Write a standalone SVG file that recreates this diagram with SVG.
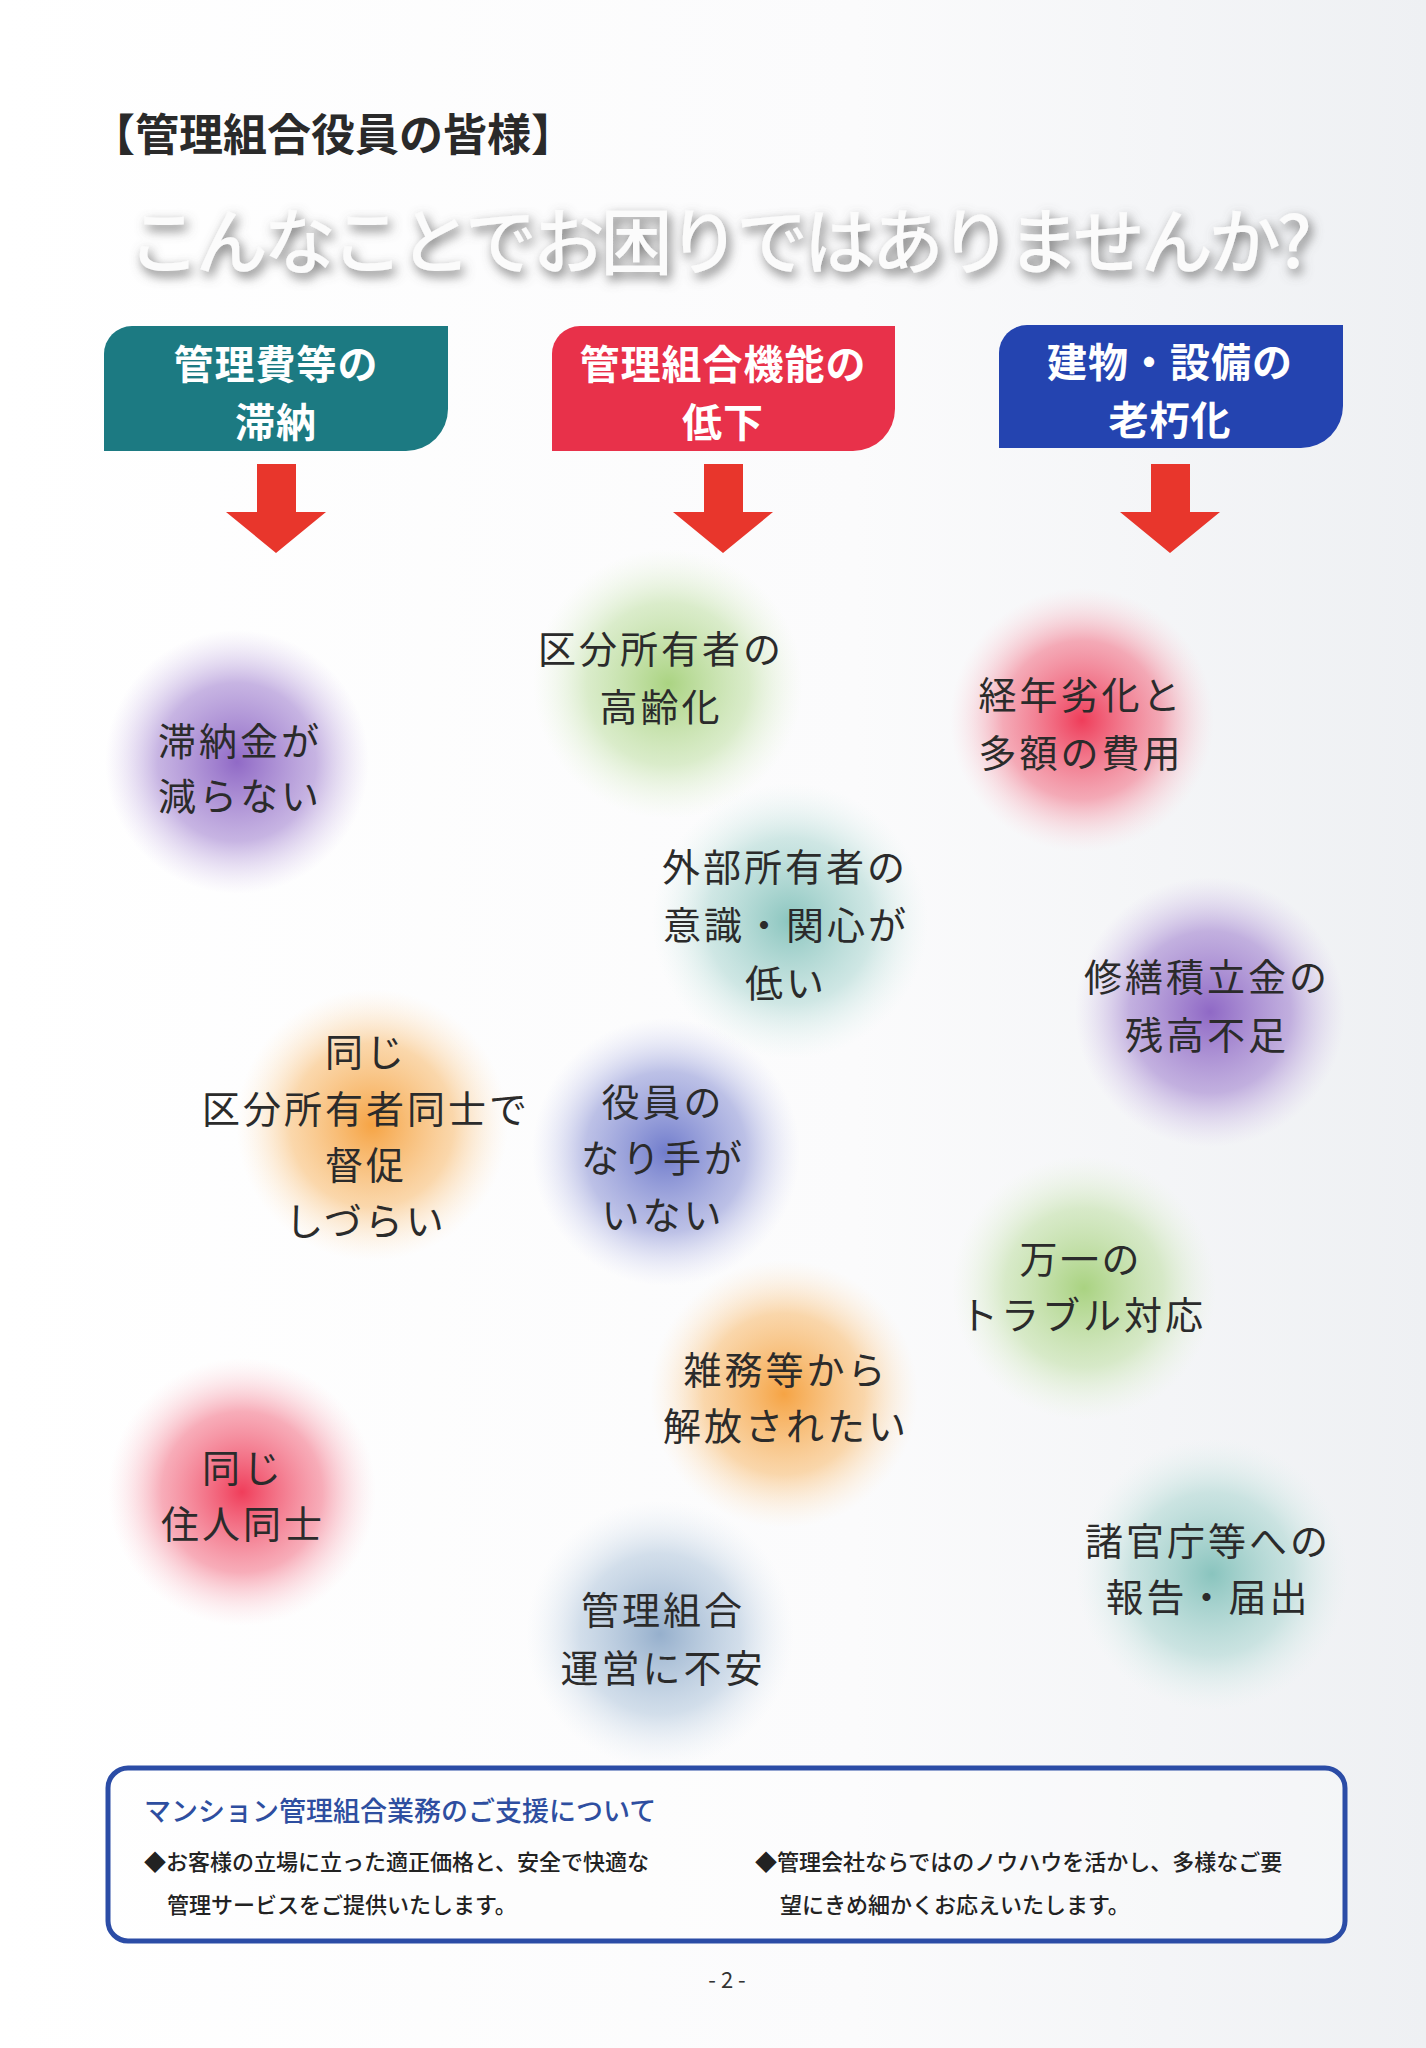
<svg xmlns="http://www.w3.org/2000/svg" width="1426" height="2048" viewBox="0 0 1426 2048">
<defs>
<style>
.jp{font-family:"Noto Sans CJK JP","Noto Sans",sans-serif;}
.hd{font-family:"Noto Sans CJK JP",sans-serif;font-weight:700;font-size:40px;letter-spacing:1px;fill:#ffffff;text-anchor:middle;dominant-baseline:central;}
.bt{font-family:"Noto Sans CJK JP",sans-serif;font-weight:400;font-size:38px;letter-spacing:3px;fill:#2b2b2b;text-anchor:middle;dominant-baseline:central;}
.sm{font-family:"Noto Sans CJK JP",sans-serif;font-weight:500;font-size:22px;fill:#222;dominant-baseline:central;}
.arrow{fill:#e8362c;}
</style>
<linearGradient id="bg" x1="0" y1="0" x2="1" y2="0">
<stop offset="0" stop-color="#ffffff"/>
<stop offset="0.6" stop-color="#fbfbfc"/>
<stop offset="1" stop-color="#eef0f3"/>
</linearGradient>
<radialGradient id="gPurple"><stop offset="0" stop-color="#8459c0" stop-opacity="0.9"/><stop offset="0.6" stop-color="#9a78cc" stop-opacity="0.55"/><stop offset="1" stop-color="#c8b4e4" stop-opacity="0"/></radialGradient>
<radialGradient id="gGreen"><stop offset="0" stop-color="#9ccc6c" stop-opacity="0.85"/><stop offset="0.6" stop-color="#b8dc98" stop-opacity="0.5"/><stop offset="1" stop-color="#dff0d0" stop-opacity="0"/></radialGradient>
<radialGradient id="gRed"><stop offset="0" stop-color="#ee2848" stop-opacity="0.9"/><stop offset="0.6" stop-color="#f26a80" stop-opacity="0.55"/><stop offset="1" stop-color="#fac8d0" stop-opacity="0"/></radialGradient>
<radialGradient id="gTeal"><stop offset="0" stop-color="#6fb8b0" stop-opacity="0.8"/><stop offset="0.6" stop-color="#a2d2cc" stop-opacity="0.5"/><stop offset="1" stop-color="#d8eeea" stop-opacity="0"/></radialGradient>
<radialGradient id="gOrange"><stop offset="0" stop-color="#f59a30" stop-opacity="0.9"/><stop offset="0.6" stop-color="#f8b868" stop-opacity="0.55"/><stop offset="1" stop-color="#fde2c0" stop-opacity="0"/></radialGradient>
<radialGradient id="gBlue"><stop offset="0" stop-color="#5866c4" stop-opacity="0.85"/><stop offset="0.6" stop-color="#8890d4" stop-opacity="0.55"/><stop offset="1" stop-color="#c8ccee" stop-opacity="0"/></radialGradient>
<radialGradient id="gSky"><stop offset="0" stop-color="#7c9cc0" stop-opacity="0.8"/><stop offset="0.6" stop-color="#a8c0d8" stop-opacity="0.5"/><stop offset="1" stop-color="#dce6f0" stop-opacity="0"/></radialGradient>
<filter id="glow" x="-10%" y="-40%" width="120%" height="180%">
<feGaussianBlur in="SourceAlpha" stdDeviation="6" result="b"/>
<feOffset in="b" dx="3" dy="5" result="o"/>
<feFlood flood-color="#6a6a6a" flood-opacity="0.95"/>
<feComposite in2="o" operator="in" result="s"/>
<feMerge><feMergeNode in="s"/><feMergeNode in="SourceGraphic"/></feMerge>
</filter>
</defs>

<rect x="0" y="0" width="1426" height="2048" fill="url(#bg)"/>

<g id="title">
<text x="91" y="132" class="jp" font-size="44" font-weight="700" fill="#2a2a2a" dominant-baseline="central">【管理組合役員の皆様】</text>
</g>
<g id="subtitle">
<text x="128" y="236" class="jp" font-size="72" font-weight="500" fill="#fbfbfb" dominant-baseline="central" textLength="1184" lengthAdjust="spacing" filter="url(#glow)">こんなことでお困りではありませんか?</text>
</g>

<g id="header1">
<path d="M104,354 A28,28 0 0 1 132,326 L448,326 L448,409 A42,42 0 0 1 406,451 L104,451 Z" fill="#1c7a82"/>
<text x="276" y="362" class="hd">管理費等の</text>
<text x="276" y="420" class="hd">滞納</text>
</g>
<g id="header2">
<path d="M552,354 A28,28 0 0 1 580,326 L895,326 L895,409 A42,42 0 0 1 853,451 L552,451 Z" fill="#e8314a"/>
<text x="723" y="362" class="hd">管理組合機能の</text>
<text x="723" y="420" class="hd">低下</text>
</g>
<g id="header3">
<path d="M999,353 A28,28 0 0 1 1027,325 L1343,325 L1343,406 A42,42 0 0 1 1301,448 L999,448 Z" fill="#2444b0"/>
<text x="1170" y="360" class="hd">建物・設備の</text>
<text x="1170" y="418" class="hd">老朽化</text>
</g>

<g id="connectors">
<path class="arrow" d="M257,464 L296,464 L296,512 L326,512 L276,553 L226,512 L257,512 Z"/>
<path class="arrow" d="M704,464 L743,464 L743,512 L773,512 L723,553 L673,512 L704,512 Z"/>
<path class="arrow" d="M1151,464 L1190,464 L1190,512 L1220,512 L1170,553 L1120,512 L1151,512 Z"/>
</g>

<g id="b1">
<circle cx="237" cy="762" r="132" fill="url(#gPurple)"/>
<text x="240" y="738" class="bt">滞納金が</text>
<text x="240" y="793" class="bt">減らない</text>
</g>
<g id="b2">
<circle cx="668" cy="684" r="135" fill="url(#gGreen)"/>
<text x="661" y="646" class="bt">区分所有者の</text>
<text x="661" y="704" class="bt">高齢化</text>
</g>
<g id="b3">
<circle cx="1082" cy="720" r="132" fill="url(#gRed)"/>
<text x="1081" y="692" class="bt">経年劣化と</text>
<text x="1081" y="750" class="bt">多額の費用</text>
</g>
<g id="b4">
<circle cx="790" cy="921" r="138" fill="url(#gTeal)"/>
<text x="785" y="864" class="bt">外部所有者の</text>
<text x="786" y="922" class="bt">意識・関心が</text>
<text x="786" y="980" class="bt">低い</text>
</g>
<g id="b5">
<circle cx="1210" cy="1012" r="135" fill="url(#gPurple)"/>
<text x="1207" y="974" class="bt">修繕積立金の</text>
<text x="1207" y="1032" class="bt">残高不足</text>
</g>
<g id="b6">
<circle cx="372" cy="1125" r="136" fill="url(#gOrange)"/>
<text x="366" y="1049" class="bt">同じ</text>
<text x="366" y="1106" class="bt">区分所有者同士で</text>
<text x="366" y="1162" class="bt">督促</text>
<text x="366" y="1218" class="bt">しづらい</text>
</g>
<g id="b7">
<circle cx="666" cy="1152" r="134" fill="url(#gBlue)"/>
<text x="663" y="1099" class="bt">役員の</text>
<text x="663" y="1155" class="bt">なり手が</text>
<text x="663" y="1212" class="bt">いない</text>
</g>
<g id="b8">
<circle cx="1084" cy="1288" r="132" fill="url(#gGreen)"/>
<text x="1081" y="1256" class="bt">万一の</text>
<text x="1083" y="1312" class="bt">トラブル対応</text>
</g>
<g id="b9">
<circle cx="784" cy="1394" r="134" fill="url(#gOrange)"/>
<text x="786" y="1367" class="bt">雑務等から</text>
<text x="786" y="1423" class="bt">解放されたい</text>
</g>
<g id="b10">
<circle cx="242" cy="1492" r="134" fill="url(#gRed)"/>
<text x="243" y="1465" class="bt">同じ</text>
<text x="243" y="1521" class="bt">住人同士</text>
</g>
<g id="b11">
<circle cx="1212" cy="1574" r="136" fill="url(#gTeal)"/>
<text x="1208" y="1538" class="bt">諸官庁等への</text>
<text x="1208" y="1594" class="bt">報告・届出</text>
</g>
<g id="b12">
<circle cx="660" cy="1634" r="134" fill="url(#gSky)"/>
<text x="663" y="1607" class="bt">管理組合</text>
<text x="663" y="1665" class="bt">運営に不安</text>
</g>

<g id="support">
<rect x="108" y="1768" width="1237" height="173" rx="20" ry="20" fill="#ffffff" fill-opacity="0.3" stroke="#2b4ca6" stroke-width="5"/>
<text x="144" y="1809" class="jp" font-size="27" font-weight="500" fill="#2e4ea0" dominant-baseline="central">マンション管理組合業務のご支援について</text>
<text x="144" y="1860" class="sm">◆お客様の立場に立った適正価格と、安全で快適な</text>
<text x="167" y="1903" class="sm">管理サービスをご提供いたします。</text>
<text x="755" y="1860" class="sm">◆管理会社ならではのノウハウを活かし、多様なご要</text>
<text x="780" y="1903" class="sm">望にきめ細かくお応えいたします。</text>
</g>

<g id="page">
<text x="727" y="1978" class="jp" font-size="22" fill="#333" text-anchor="middle" dominant-baseline="central">- 2 -</text>
</g>
</svg>
